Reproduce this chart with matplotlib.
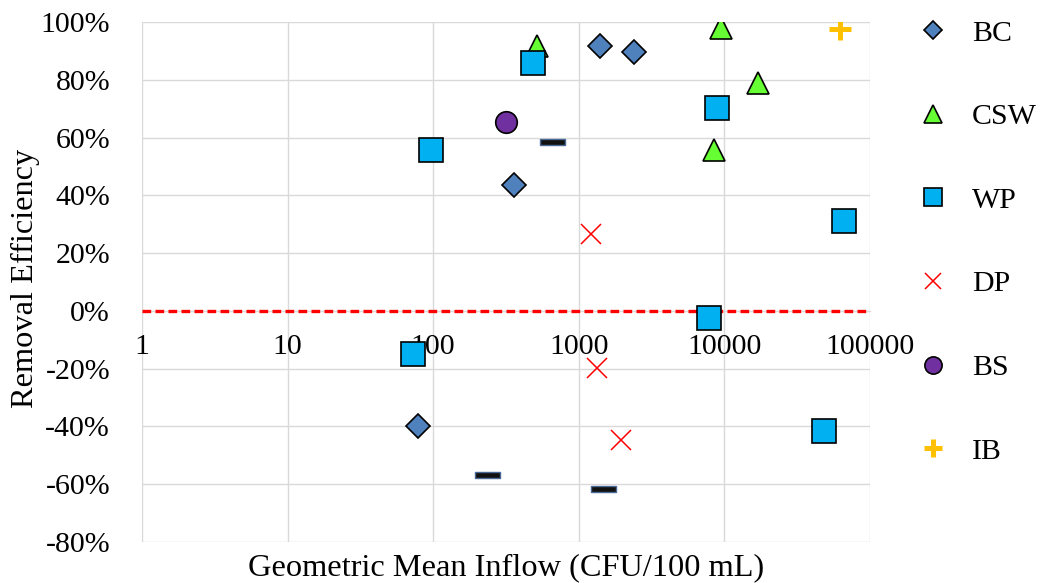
import matplotlib
matplotlib.use("Agg")
import matplotlib.pyplot as plt
from matplotlib.lines import Line2D
from matplotlib.path import Path
from matplotlib.ticker import FixedLocator, NullLocator, FuncFormatter

plt.rcParams["font.family"] = ["Liberation Serif", "DejaVu Serif"]
FS = 21.5
TITLE_FS = 23.3

# geometric mean inflow (CFU/100 mL) and removal efficiency (%)
bc_x = [1406, 2405, 360, 79]
bc_y = [91.8, 89.7, 43.6, -39.9]
csw_x = [519, 9490, 16940, 8530]
csw_y = [91.8, 98.0, 78.9, 55.7]
wp_x = [487, 97, 8950, 66800, 7890, 73, 48700]
wp_y = [85.9, 55.7, 70.3, 31.1, -2.5, -15.0, -41.7]
dp_x = [1219, 1340, 1960]
dp_y = [26.6, -19.7, -44.8]
bs_x = [318]
bs_y = [65.4]
ib_x = [62700]
ib_y = [97.7]
other_x = [658, 235, 1467]
other_y = [58.4, -56.8, -61.8]

x_ticks = [1, 10, 100, 1000, 10000, 100000]
y_ticks = [-80, -60, -40, -20, 0, 20, 40, 60, 80, 100]

dash = Path([(-1, -0.24), (1, -0.24), (1, 0.24), (-1, 0.24), (-1, -0.24)],
            [Path.MOVETO, Path.LINETO, Path.LINETO, Path.LINETO, Path.CLOSEPOLY])

series = [
    ("BC", bc_x, bc_y, dict(marker="D", ms=12, mfc="#4F81BD", mec="black", mew=1.2)),
    ("CSW", csw_x, csw_y, dict(marker="^", ms=16, mfc="#66FF33", mec="black", mew=1.2)),
    ("WP", wp_x, wp_y, dict(marker="s", ms=17, mfc="#00B0F0", mec="black", mew=1.2)),
    ("DP", dp_x, dp_y, dict(marker="x", ms=14, mec="#FF0000", mew=1.1)),
    ("BS", bs_x, bs_y, dict(marker="o", ms=15.5, mfc="#7030A0", mec="black", mew=1.2)),
    ("IB", ib_x, ib_y, dict(marker="+", ms=16, mec="#FFC000", mew=3.6)),
]

fig = plt.figure(figsize=(10.43, 5.83), dpi=100)
ax = fig.add_axes([0.1361, 0.0708, 0.698, 0.8909])

ax.axhline(0, color="#FF0000", lw=2.4, ls=(0, (2.6, 1.3)), zorder=3)

handles = []
for name, xs, ys, st in series:
    ax.plot(xs, ys, ls="none", zorder=4, **st)
    handles.append(Line2D([], [], ls="none", label=name, **st))
ax.plot(other_x, other_y, ls="none", marker=dash, ms=18, mfc="#111111",
        mec="#4A6A95", mew=1.0, zorder=4)

ax.set_xscale("log")
ax.set_xlim(1, 100000)
ax.set_ylim(-80, 100)
ax.xaxis.set_major_locator(FixedLocator(x_ticks))
ax.xaxis.set_minor_locator(NullLocator())
ax.xaxis.set_major_formatter(FuncFormatter(lambda v, p: f"{v:.0f}"))
ax.yaxis.set_major_locator(FixedLocator(y_ticks))
ax.yaxis.set_major_formatter(FuncFormatter(lambda v, p: f"{v:.0f}%"))

for s in ["top", "right", "left"]:
    ax.spines[s].set_visible(False)
ax.spines["bottom"].set_position(("data", 0))
ax.spines["bottom"].set_color("#D9D9D9")
ax.spines["bottom"].set_zorder(1)
ax.grid(True, color="#D9D9D9", lw=1.0, zorder=0)
ax.set_axisbelow(True)
ax.tick_params(axis="x", length=0, pad=17, labelsize=FS)
ax.tick_params(axis="y", length=0, pad=23, labelsize=FS)

fig.text(0.485, 0.026, "Geometric Mean Inflow (CFU/100 mL)", ha="center",
         va="center", fontsize=TITLE_FS)
fig.text(0.024, 0.522, "Removal Efficiency", ha="center", va="center",
         rotation=90, fontsize=TITLE_FS)

fig.legend(handles=handles, loc="upper left", bbox_to_anchor=(0.862, 0.997),
           frameon=False, fontsize=FS, labelspacing=1.9, handletextpad=0.75,
           handlelength=1.1, markerscale=0.8, borderaxespad=0.2)

fig.savefig("out.png", dpi=100)
